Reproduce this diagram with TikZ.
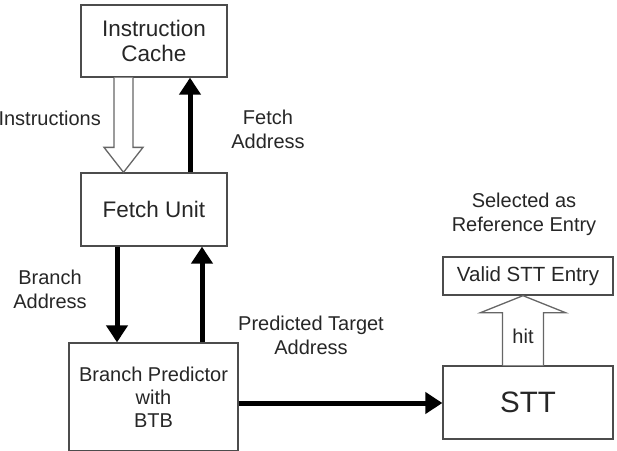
\documentclass[tikz,border=0pt]{standalone}
\usepackage{fontspec}
\setmainfont{Liberation Sans}
\usetikzlibrary{arrows.meta,calc}
\begin{document}
\begin{tikzpicture}[x=1pt,y=-1pt,
  box/.style={draw=black!70,line width=1.3pt,rectangle,align=center,inner sep=0pt,text=black!85},
  lbl/.style={align=center,inner sep=0pt,text=black!85,font=\fontsize{20}{24}\selectfont},
  thick arrow/.style={line width=5pt,-{Triangle[length=17pt,width=21pt]}},
  hollow/.style={draw=black!60,line width=1.3pt,fill=white,line join=miter}]
\useasboundingbox (0,0) rectangle (617,450);
\node[box,minimum width=146pt,minimum height=72pt,font=\fontsize{22.5}{25}\selectfont] (ic) at (154,41) {Instruction\\Cache};
\node[box,minimum width=146pt,minimum height=73pt,font=\fontsize{22.5}{25}\selectfont] (fu) at (154,209.5) {Fetch Unit};
\node[box,minimum width=169pt,minimum height=108pt,font=\fontsize{20}{23}\selectfont] (bp) at (153.5,397) {Branch Predictor\\with\\BTB};
\node[box,minimum width=170pt,minimum height=73pt,font=\fontsize{29.5}{32}\selectfont] (stt) at (528,402.5) {STT};
\node[box,minimum width=170pt,minimum height=38pt,font=\fontsize{20.5}{24}\selectfont] (valid) at (528,276) {Valid STT Entry};
% hollow arrow Instructions
\coordinate (ia) at ($(ic.south)+(-30.5,0)$);
\coordinate (ib) at ($(fu.north)+(-30.5,0)$);
\draw[hollow] ($(ia)+(-9.5,0)$) -- ($(ib)+(-9.5,-25)$) -- ($(ib)+(-19.5,-25)$) -- (ib) -- ($(ib)+(19.5,-25)$) -- ($(ib)+(9.5,-25)$) -- ($(ia)+(9.5,0)$);
% fetch address
\draw[thick arrow] ($(fu.north)+(36,0)$) -- ($(ic.south)+(36,0)$);
% branch address
\draw[thick arrow] ($(fu.south)+(-37,0)$) -- ($(bp.north)+(-36.5,0)$);
% predicted target
\draw[thick arrow] ($(bp.north)+(48.5,0)$) -- ($(fu.south)+(48,0)$);
% to STT
\draw[thick arrow] ($(bp.east)+(0,6)$) -- ($(stt.west)+(0,0.5)$);
% hit hollow arrow
\coordinate (ha) at ($(stt.north)+(-5,0)$);
\coordinate (hb) at ($(valid.south)+(-5,0)$);
\draw[hollow] ($(ha)+(-20.5,0)$) -- ($(hb)+(-20.5,17)$) -- ($(hb)+(-42.5,17)$) -- (hb) -- ($(hb)+(42.5,17)$) -- ($(hb)+(20.5,17)$) -- ($(ha)+(20.5,0)$);
\node[lbl] (hit) at (523,336) {hit};
% labels
\node[lbl,anchor=east] (linstr) at (101,118) {Instructions};
\node[lbl] (lfetch) at (268,129) {Fetch\\Address};
\node[lbl] (lbranch) at (50,289) {Branch\\Address};
\node[lbl] (lpred) at (311,335) {Predicted Target\\Address};
\node[lbl] (lsel) at (524,214) {Selected as\\Reference Entry};
\end{tikzpicture}
\end{document}
